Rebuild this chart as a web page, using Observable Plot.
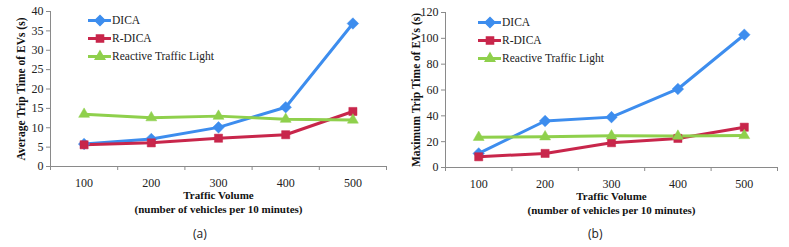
<!DOCTYPE html>
<html>
<head>
<meta charset="utf-8">
<script src="https://cdn.jsdelivr.net/npm/d3@7"></script>
<script src="https://cdn.jsdelivr.net/npm/@observablehq/plot@0.6"></script>
<style>
  html, body { margin: 0; padding: 0; background: #fff; }
  #wrap { position: relative; width: 789px; height: 247px; overflow: hidden; }
  .panel { position: absolute; top: 0; }
  .panel svg, .panel svg text { font-family: "Liberation Serif", "Times New Roman", "DejaVu Serif", serif !important; }
  .cap { position: absolute; top: 225px; font-family: "Open Sans", "Liberation Sans", sans-serif; font-size: 12px; color: #222; }
  .legend { position: absolute; font-family: "Liberation Serif", "Times New Roman", serif; font-size: 11.5px; color: #222; }
  .legend div { height: 18px; display: flex; align-items: center; }
  .legend svg { margin-right: 1px; }
</style>
</head>
<body>
<div id="wrap"></div>
<script>
const volumes = [100, 200, 300, 400, 500];
const seriesNames = ["DICA", "R-DICA", "Reactive Traffic Light"];
const avgDICA = [5.8, 7.1, 10.1, 15.3, 36.9];
const avgRDICA = [5.6, 6.1, 7.3, 8.2, 14.2];
const avgReactive = [13.5, 12.6, 13.0, 12.2, 12.0];
const maxDICA = [10.9, 36.0, 39.0, 60.8, 102.8];
const maxRDICA = [8.3, 10.9, 19.2, 22.5, 31.2];
const maxReactive = [23.4, 23.8, 24.5, 24.3, 24.8];
const yTicksA = [0, 5, 10, 15, 20, 25, 30, 35, 40];
const yTicksB = [0, 20, 40, 60, 80, 100, 120];
const xBoundaries = [50, 150, 250, 350, 450, 550];
const colors = ["#3d8dee", "#c8264b", "#8fd04c"];
const symbols = ["diamond2", "square2", "triangle2"];
const serif = '"Liberation Serif", "Times New Roman", serif';

function rows(vals) {
  const out = [];
  vals.forEach((arr, s) => arr.forEach((v, i) => out.push({series: seriesNames[s], x: volumes[i], y: v})));
  return out;
}

function makeChart(opts) {
  const data = rows(opts.values);
  return Plot.plot({
    width: opts.width,
    height: 222,
    marginLeft: 50,
    marginRight: opts.marginRight,
    marginTop: opts.marginTop,
    marginBottom: 222 - opts.bottom,
    style: {fontFamily: serif, fontSize: "11px", color: "#222", background: "white"},
    x: {type: "linear", domain: [50, 550]},
    y: {domain: [0, opts.yMax]},
    color: {domain: seriesNames, range: colors},
    symbol: {domain: seriesNames, range: symbols},
    marks: [
      Plot.ruleY([0], {stroke: "#8a8a8a", strokeWidth: 1}),
      Plot.ruleX([50], {stroke: "#8a8a8a", strokeWidth: 1}),
      Plot.axisX({ticks: xBoundaries, tickSize: 4, tickFormat: () => "", stroke: "#8a8a8a", label: null}),
      Plot.axisX({ticks: volumes, tickSize: 0, tickPadding: 12, tickFormat: d => d, fontSize: 12, label: null}),
      Plot.axisY({ticks: opts.yTicks, tickSize: 4, tickPadding: 3, stroke: "#8a8a8a", fontSize: 12, label: null}),
      Plot.line(data, {x: "x", y: "y", stroke: "series", z: "series", strokeWidth: 3}),
      Plot.dot(data, {x: "x", y: "y", fill: "series", symbol: "series", r: 5.2, stroke: "series", strokeWidth: 0.5}),
      Plot.text(["Traffic Volume"], {frameAnchor: "bottom", dy: 29, lineAnchor: "middle", fontWeight: "bold", fontSize: 11, fill: "#111"}),
      Plot.text(["(number of vehicles per 10 minutes)"], {frameAnchor: "bottom", dy: 43, lineAnchor: "middle", fontWeight: "bold", fontSize: 11, fill: "#111"}),
      Plot.text([opts.yLabel], {frameAnchor: "left", dx: -29, rotate: -90, textAnchor: "middle", fontWeight: "bold", fontSize: 11.5, fill: "#111"})
    ]
  });
}

const wrap = document.getElementById("wrap");

function addPanel(left, chart, legendPos, caption, capLeft) {
  const p = document.createElement("div");
  p.className = "panel";
  p.style.left = left + "px";
  p.appendChild(chart);
  wrap.appendChild(p);
  const lg = document.createElement("div");
  lg.className = "legend";
  lg.style.left = legendPos[0] + "px";
  lg.style.top = legendPos[1] + "px";
  seriesNames.forEach((name, i) => {
    const row = document.createElement("div");
    const sw = Plot.plot({
      width: 23, height: 14, margin: 0,
      x: {domain: [0, 2], axis: null}, y: {domain: [0, 1], axis: null},
      style: {background: "transparent"},
      marks: [
        Plot.ruleY([0.5], {stroke: colors[i], strokeWidth: 3}),
        Plot.dot([[1, 0.5]], {symbol: symbols[i], fill: colors[i], stroke: colors[i], r: 4.5})
      ]
    });
    row.appendChild(sw);
    const t = document.createElement("span");
    t.textContent = name;
    row.appendChild(t);
    lg.appendChild(row);
  });
  wrap.appendChild(lg);
  const c = document.createElement("div");
  c.className = "cap";
  c.style.left = capLeft + "px";
  c.textContent = caption;
  wrap.appendChild(c);
}

addPanel(0, makeChart({
  width: 395, marginRight: 9, marginTop: 11, bottom: 166,
  yMax: 40, yTicks: yTicksA, values: [avgDICA, avgRDICA, avgReactive],
  yLabel: "Average Trip Time of EVs (s)"
}), [88, 11], "(a)", 193);

addPanel(395, makeChart({
  width: 394, marginRight: 12, marginTop: 12, bottom: 167,
  yMax: 120, yTicks: yTicksB, values: [maxDICA, maxRDICA, maxReactive],
  yLabel: "Maximum Trip Time of EVs (s)"
}), [478, 13], "(b)", 588);
</script>
</body>
</html>
